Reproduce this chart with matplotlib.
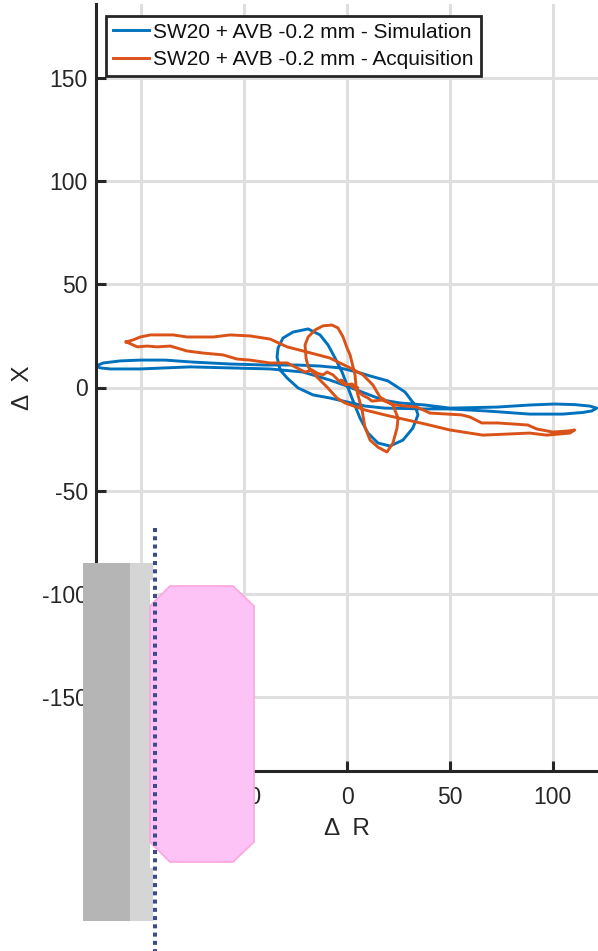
"""Delta X vs Delta R trajectories, simulation against acquisition, with the beam limiting overlay."""
import matplotlib
matplotlib.use("Agg")
import matplotlib.pyplot as plt
from matplotlib.patches import Polygon, Rectangle

plt.rcParams['font.family'] = ['Liberation Sans', 'DejaVu Sans']
plt.rcParams['axes.unicode_minus'] = False

W, H = 598, 951
INK = '#262626'

sim_r = [-122.3, -118.4, -110.2, -100.5, -88.3, -76.2, -56.8, -39.8, -24.3, -13.1, -3.4, 4.9, 11.2,
         19.9, 28.2, 33, 34.5, 32, 27.2, 20.9, 15, 10.2, 6.3, 2.4, 0, -2.4, -5.8, -9.2, -13.1, -18.9,
         -26.2, -31.1, -33.5, -34, -32.5, -29.1, -23.8, -16.5, -8.3, 0, 8.7, 18.4, 37.9, 50, 68, 88.8,
         104.9, 114.6, 118.9, 121.4, 118, 110.7, 101, 88.8, 72.8, 50, 37.9, 25.7, 17.5, 7.3, 0, -8.3,
         -21.4, -37.4, -56.8, -76.2, -100.5, -115, -119.9, -122.3]
sim_x = [10.4, 11.9, 12.9, 13.3, 13.3, 12.4, 11.4, 10.9, 10.9, 10.4, 9.5, 7.5, 5.6,
         3.2, -2.2, -8.5, -13.3, -19.7, -25.5, -28.4, -26.9, -22.1, -14.8, -5.1, 1.2, 7.5, 14.3, 20.6, 25.5, 28.4,
         26.9, 24, 19.2, 14.8, 8.5, 4.6, -0.2, -3.6, -5.1, -7, -9, -10, -10.4, -10.4, -11.4, -12.9,
         -12.9, -12.1, -11.4, -10, -9, -8.3, -8, -8.5, -9.5, -10, -8.5, -7.5, -6.1, -2.2, 0.7, 3.6,
         7.5, 9, 9.5, 10, 9, 9, 9.5, 10.4]

acq_r = [-107.3, -103.9, -100.5, -95.6, -84.5, -77.7, -65, -56.8, -47.1, -37.4, -29.1, -19.4, -8.3,
         1.5, 7.8, 12.6, 16, 22.3, 24.8, 24.3, 22.3, 19.4, 15, 11.2, 8.7, 7.3, 5.3, 4.4, 3.9, 1.5, 0,
         -1.9, -4.4, -7.3, -11.7, -15.5, -18.9, -20.4, -19.9, -18.9, -14.6, -9.7, -4.9, -1, 8.7, 18.4,
         37.9, 50, 66, 88.8, 97.1, 108.3, 110.7, 107.3, 100, 92.2, 87.9, 73.3, 65.5, 59.7, 55.8, 40.3,
         34, 23.3, 17, 12.1, 10.2, 7.3, 4.9, 2.4, 5.3, 2.4, -1, -2.9, -0.5, -3.4, -6.8, -9.7, -11.7,
         -14.6, -17, -20.4, -24.3, -29.1, -34, -37.4, -47.1, -53.4, -60.2, -69.9, -77.7, -85.9, -92.2,
         -97.1, -101.9, -107.3]
acq_x = [22.1, 23.1, 24.5, 25.5, 25.5, 24.5, 24.5, 25.5, 25, 23.5, 19.7, 17.2, 14.3,
         9.5, 6.1, 1.2, -4.6, -8.5, -14.8, -19.7, -27, -31.3, -28.9, -25.5, -19.2, -10.9, -3.6, 0.2, 6.1, 15.8, 19.2,
         24.5, 28.9, 30.3, 29.9, 27.9, 24.5, 20.6, 14.3, 10, 5.1, 0.2, -5.1, -7.5, -10.9, -13.3,
         -17.7, -20.6, -23.1, -22.1, -23.1, -22.1, -20.6, -21.1, -21.6, -20.1, -18.2, -17.2, -17.2, -14.3, -13.3, -12.4,
         -9.5, -8.5, -6.1, -6.6, -5.1, -3.6, -1.2, 0.7, -0.2, 1.7, 1.2, 3.6, 1.7, 2.7, 6.1, 7.5, 6.1,
         7, 8.5, 7.5, 9.5, 11.9, 11.9, 11.9, 13.3, 13.8, 15.8, 16.7, 17.7, 20.1, 19.7,
         20.1, 19.7, 22.1]

xticks = [-100, -50, 0, 50, 100]
yticks = [-150, -100, -50, 0, 50, 100, 150]
labels = ['SW20 + AVB -0.2 mm - Simulation', 'SW20 + AVB -0.2 mm - Acquisition']

fig = plt.figure(figsize=(W / 100, H / 100), dpi=100)
ax = fig.add_axes([96 / W, (H - 771) / H, 502 / W, 767 / H])
ax.set_xlim(-122, 122)
ax.set_ylim(-186, 186)

ax.plot(sim_r, sim_x, color='#0072BD', lw=2.1, label=labels[0])
ax.plot(acq_r, acq_x, color='#D95319', lw=2.1, label=labels[1])

ax.set_xticks(xticks)
ax.set_yticks(yticks)
ax.grid(True, color='#dfdfdf', lw=2.2)
ax.set_axisbelow(True)
ax.tick_params(direction='in', length=7, width=2.2, color=INK, labelcolor=INK, labelsize=16.5)
ax.tick_params(axis='x', pad=11)
ax.tick_params(axis='y', pad=6)
for side in ['top', 'right']:
    ax.spines[side].set_visible(False)
for side in ['left', 'bottom']:
    ax.spines[side].set_color(INK)
    ax.spines[side].set_linewidth(2.2)
ax.set_xlabel('Δ  R', fontsize=17.5, color=INK, labelpad=6)
ax.set_ylabel('Δ  X', fontsize=17.5, color=INK, labelpad=5.5)

leg = ax.legend(loc='upper left', bbox_to_anchor=(106 / W, (H - 16) / H),
                bbox_transform=fig.transFigure, fontsize=15.05, fancybox=False, framealpha=1,
                edgecolor=INK, borderpad=0.32, borderaxespad=0, handlelength=1.75,
                handletextpad=0.2, labelspacing=0.42)
leg.get_frame().set_linewidth(2.0)
for text in leg.get_texts():
    text.set_color('#111111')

# overlay drawn in image pixels, on top of the axes and its labels
top = fig.add_axes([0, 0, 1, 1], zorder=5)
top.set_xlim(0, W)
top.set_ylim(H, 0)
top.axis('off')
top.add_patch(Rectangle((83, 563), 47, 358, fc='#b5b5b5', ec='none'))
top.add_patch(Rectangle((130, 563), 23, 358, fc='#d5d5d5', ec='none'))
top.add_patch(Rectangle((150, 580), 4, 288, fc='white', ec='none'))
top.add_patch(Polygon([(170, 586), (233, 586), (254, 606), (254, 842), (233, 862),
                       (170, 862), (150, 842), (150, 606)],
                      closed=True, fc='#fdc3f6', ec='#fda6dc', lw=1.2))
top.plot([154.5, 154.5], [528, 951], color='#3f4a8c', lw=2.9, ls=(0, (1, 1.05)))

fig.savefig('out.png', dpi=100)
